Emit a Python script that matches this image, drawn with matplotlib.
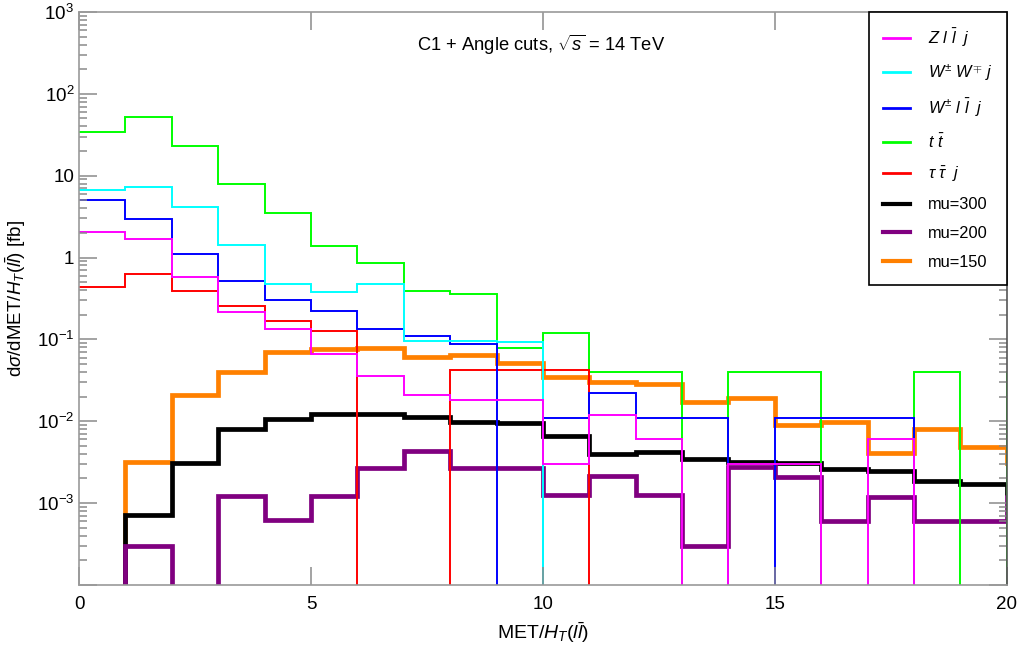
import numpy as np
import matplotlib
matplotlib.use("Agg")
import matplotlib.pyplot as plt
from matplotlib.ticker import LogLocator, FuncFormatter, FixedLocator, NullLocator
from matplotlib.lines import Line2D

plt.rcParams["font.family"] = ["Liberation Sans", "DejaVu Sans"]
plt.rcParams["mathtext.fontset"] = "custom"
plt.rcParams["mathtext.rm"] = "Liberation Sans"
plt.rcParams["mathtext.it"] = "Liberation Sans:italic"
plt.rcParams["mathtext.bf"] = "Liberation Sans:bold"

# ---------------------- Binned cross sections ----------------------
# bins of MET/H_T(ll), one unit wide; the last bin sits just past the frame
edges = np.arange(0, 22)

z_llj = [2.03, 1.70, 0.571, 0.218, 0.133, 0.0655, 0.0357, 0.0210, 0.0180, 0.0180,
         0.0030, 0.0119, 0.0060, 0, 0.0030, 0.0030, 0, 0.00605, 0, 0, 0]
ww_j = [6.75, 7.35, 4.20, 1.43, 0.478, 0.376, 0.474, 0.095, 0.095, 0.094,
        0, 0, 0, 0, 0, 0, 0, 0, 0, 0, 0]
wll_j = [5.05, 2.92, 1.11, 0.520, 0.300, 0.222, 0.133, 0.110, 0.089, 0,
         0.0111, 0.0222, 0.0111, 0.0111, 0, 0.0111, 0.0111, 0.0111, 0, 0, 0]
tt = [34.6, 52.8, 23.1, 7.85, 3.50, 1.38, 0.87, 0.392, 0.358, 0.079,
      0.120, 0.040, 0.040, 0, 0.040, 0.040, 0, 0, 0.040, 0, 0.040]
tautau_j = [0.431, 0.638, 0.386, 0.258, 0.170, 0.126, 0, 0, 0.0425, 0.0425,
            0.0420, 0, 0, 0, 0, 0, 0, 0, 0, 0, 0]
mu300 = [0, 7.2e-4, 3.12e-3, 8.16e-3, 0.0106, 0.0123, 0.0123, 0.0112, 0.0097, 0.0095,
         0.0067, 0.0040, 0.00425, 0.00343, 0.00321, 0.00312, 0.00264, 0.00249, 0.00188, 0.00172, 0.00132]
mu200 = [0, 3.0e-4, 0, 1.23e-3, 6.15e-4, 1.23e-3, 2.72e-3, 4.37e-3, 2.72e-3, 2.72e-3,
         1.24e-3, 2.15e-3, 1.24e-3, 3.02e-4, 2.79e-3, 2.11e-3, 6.1e-4, 1.2e-3, 6.1e-4, 6.1e-4, 1.2e-3]
mu150 = [0, 3.16e-3, 0.0212, 0.0400, 0.0710, 0.0760, 0.0789, 0.0608, 0.0649, 0.0520,
         0.0350, 0.0299, 0.0283, 0.0171, 0.0193, 0.0089, 0.00976, 0.00406, 0.00809, 0.00489, 0.00306]

labels = [r"$Z\ l\ \bar{l}\ \ j$", r"$W^{\pm}\ W^{\mp}\ j$", r"$W^{\pm}\ l\ \bar{l}\ \ j$",
          r"$t\ \bar{t}$", r"$\tau\ \bar{\tau}\ \ j$", "mu=300", "mu=200", "mu=150"]
colors = ["#ff00ff", "#00ffff", "#0000ff", "#00ff00", "#ff0000", "#000000", "#800080", "#ff8000"]
series = [z_llj, ww_j, wll_j, tt, tautau_j, mu300, mu200, mu150]
widths = [1.4, 1.4, 1.4, 1.4, 1.4, 3.4, 3.4, 3.4]

# thick signal curves first, thin backgrounds on top, magenta last
draw_order = [7, 5, 6, 3, 4, 2, 1, 0]

fig = plt.figure(figsize=(10.2, 6.51), dpi=100)
ax = fig.add_axes([0.0775, 0.1014, 0.9095, 0.8802])

for i in draw_order:
    ax.stairs(series[i], edges, baseline=None, color=colors[i], lw=widths[i])

ax.set_yscale("log", nonpositive="clip")
ax.set_xlim(0, 20)
ax.set_ylim(1e-4, 1e3)


def decade_label(v, pos):
    e = int(round(np.log10(v)))
    if e < -3 or e > 3:
        return ""
    if e == 0:
        return "1"
    if e == 1:
        return "10"
    return r"$10^{%d}$" % e


ax.yaxis.set_major_locator(LogLocator(base=10, numticks=20))
ax.yaxis.set_minor_locator(LogLocator(base=10, subs=np.arange(2, 10), numticks=20))
ax.yaxis.set_major_formatter(FuncFormatter(decade_label))
ax.xaxis.set_major_locator(FixedLocator([0, 5, 10, 15, 20]))
ax.xaxis.set_minor_locator(NullLocator())

ax.tick_params(which="both", direction="in", top=True, right=True, color="#8a8a8a",
               width=1.1, labelsize=13.5, labelcolor="black")
ax.tick_params(which="major", length=13)
ax.tick_params(which="minor", length=6)
ax.tick_params(axis="x", pad=8)

for side in ["left", "top", "bottom"]:
    ax.spines[side].set_color("#9a9a9a")
    ax.spines[side].set_linewidth(1.2)
ax.spines["right"].set_color("#555555")
ax.spines["right"].set_linewidth(1.2)

ax.set_xlabel(r"MET/$H_T(l\bar{l})$", fontsize=14, labelpad=5)
ax.set_ylabel(r"d$\sigma$/dMET/$H_T(l\bar{l})$ [fb]", fontsize=13.5, labelpad=6)

ax.text(0.498, 0.942, r"C1 + Angle cuts, $\sqrt{s}$ = 14 TeV", transform=ax.transAxes,
        ha="center", va="center", fontsize=13.2)

handles = [Line2D([0], [0], color=c, lw=(2.0 if w < 2 else 3.0)) for c, w in zip(colors, widths)]
leg = ax.legend(handles, labels, loc="upper right", bbox_to_anchor=(1.0, 1.0),
                borderaxespad=0, fontsize=11.8, frameon=True, fancybox=False,
                edgecolor="black", framealpha=1, handlelength=1.6, handletextpad=1.1,
                labelspacing=0.84, borderpad=0.9)
leg.get_frame().set_linewidth(1.2)

fig.savefig("out.png", dpi=100)
